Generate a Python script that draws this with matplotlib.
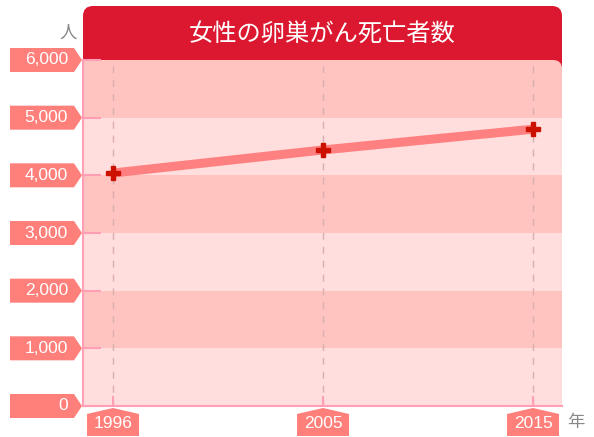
import matplotlib
matplotlib.use('Agg')
import matplotlib.pyplot as plt
from matplotlib.patches import Polygon, FancyBboxPatch, Rectangle
from matplotlib.transforms import IdentityTransform

# データ
years = ['1996', '2005', '2015']
deaths = [4040, 4440, 4800]
y_ticks = [0, 1000, 2000, 3000, 4000, 5000, 6000]
y_labels = ['0', '1,000', '2,000', '3,000', '4,000', '5,000', '6,000']
title = '女性の卵巣がん死亡者数'

plt.rcParams['font.family'] = ['Liberation Sans', 'Noto Sans CJK JP']

W, H = 594, 437
fig = plt.figure(figsize=(W / 100, H / 100), dpi=100)
ax = fig.add_axes([83 / W, 31 / H, 479 / W, 346 / H])
ax.patch.set_visible(False)
ax.set_zorder(1)

xs = list(range(len(years)))
ax.set_xlim(-0.143, 2.138)
ax.set_ylim(0, 6000)

pink = '#FF9EB5'
dark = '#FFC3C0'
light = '#FFDEDD'
salmon = '#FF7F7A'
ident = IdentityTransform()

# 背景の帯（一番上の帯は角丸で別に描く）
for i in range(len(y_ticks) - 2):
    c = dark if i % 2 == 1 else light
    ax.axhspan(y_ticks[i], y_ticks[i + 1], color=c, lw=0, zorder=0)

x0, y0 = ax.transData.transform((ax.get_xlim()[0], 5000))
x1, y1 = ax.transData.transform((ax.get_xlim()[1], 6000))

# タイトル
fig.patches.append(FancyBboxPatch((x0, y1 - 14), x1 - x0, H - 6 - (y1 - 14),
                                  boxstyle='round,pad=0,rounding_size=10',
                                  transform=ident, fc='#DC1830', ec='none', zorder=0.4))
fig.text((x0 + x1) / 2, H - 34, title, transform=ident, ha='center', va='center',
         color='white', fontsize=17.5, family=['Noto Sans CJK JP'], zorder=5)

# 上の帯（右上だけ角丸）
fig.patches.append(FancyBboxPatch((x0, y0 - 12), x1 - x0, y1 - y0 + 12,
                                  boxstyle='round,pad=0,rounding_size=9',
                                  transform=ident, fc=dark, ec='none', zorder=0.5))
fig.patches.append(Rectangle((x0, y0), (x1 - x0) / 2, y1 - y0, transform=ident,
                             fc=dark, ec='none', zorder=0.6))

# 縦の点線
for x in xs:
    ax.axvline(x, color='#D9AFAF', lw=1, ls=(0, (5, 5)), zorder=1)

# 折れ線
ax.plot(xs, deaths, color='#FF8080', lw=6.5, solid_capstyle='butt', zorder=3)
ax.plot(xs, deaths, 'P', ms=10.5, color='#CC1100', mec='#CC1100', zorder=4)

# 軸
for s in ['top', 'right']:
    ax.spines[s].set_visible(False)
for s in ['left', 'bottom']:
    ax.spines[s].set_color(pink)
    ax.spines[s].set_linewidth(1.5)
ax.set_xticks(xs)
ax.set_yticks(y_ticks)
ax.tick_params(axis='y', direction='in', length=13, width=1.5, color=pink, labelleft=False)
ax.tick_params(axis='x', direction='in', length=7, width=1.5, color=pink, labelbottom=False)

# 縦軸ラベル
for v, lab in zip(y_ticks, y_labels):
    yp = ax.transData.transform((0, v))[1]
    pts = [(10, yp - 12), (74, yp - 12), (82, yp), (74, yp + 12), (10, yp + 12)]
    fig.patches.append(Polygon(pts, closed=True, transform=ident, fc=salmon, ec='none'))
    fig.text(68, yp, lab, transform=ident, ha='right', va='center',
             color='white', fontsize=12.5)

# 横軸ラベル
for x, lab in zip(xs, years):
    xp = ax.transData.transform((x, 0))[0]
    pts = [(xp - 26, 1), (xp - 26, 23), (xp, 29), (xp + 26, 23), (xp + 26, 1)]
    fig.patches.append(Polygon(pts, closed=True, transform=ident, fc=salmon, ec='none'))
    fig.text(xp, 13, lab, transform=ident, ha='center', va='center',
             color='white', fontsize=12.5)

fig.text(68, H - 33, '人', transform=ident, ha='center', va='center',
         color='#888888', fontsize=12.5, family=['Noto Sans CJK JP'])
fig.text(576, 15, '年', transform=ident, ha='center', va='center',
         color='#888888', fontsize=12.5, family=['Noto Sans CJK JP'])

fig.savefig('out.png', dpi=100)
